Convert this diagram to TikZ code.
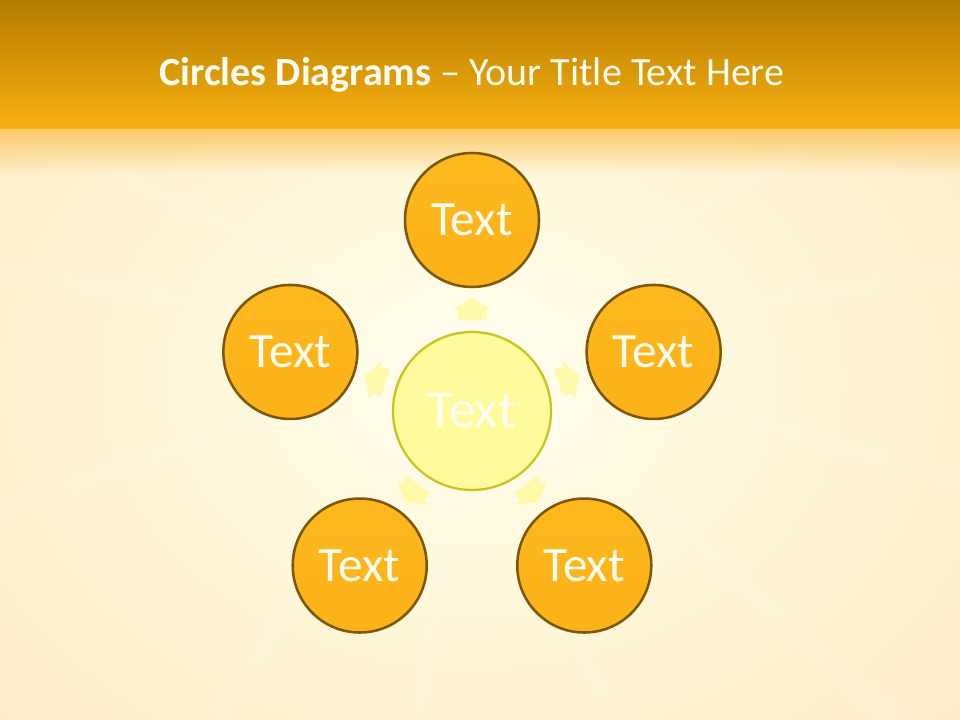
\documentclass[tikz,border=0pt]{standalone}
\usepackage{fontspec}
\setmainfont{Carlito}
\usetikzlibrary{fadings}
\definecolor{bandtop}{HTML}{B57C00}
\definecolor{bandbot}{HTML}{F9B010}
\definecolor{bandglow}{HTML}{FBC258}
\definecolor{glowa}{HTML}{FFFEF4}
\definecolor{glowb}{HTML}{FFFAE0}
\definecolor{glowc}{HTML}{FEF1CE}
\definecolor{glowd}{HTML}{FDE5C2}
\definecolor{glowe}{HTML}{FBD6B4}
\definecolor{ringbrown}{HTML}{7C5708}
\definecolor{orangetop}{HTML}{FEB81E}
\definecolor{orangebot}{HTML}{FCB219}
\definecolor{hubring}{HTML}{C9C41E}
\definecolor{hubfill}{HTML}{FFFB9C}
\definecolor{arrowyellow}{HTML}{FFF9A0}
\definecolor{textwhite}{HTML}{FFFDF2}
\pgfdeclareradialshading{sunglow}{\pgfpoint{0bp}{0bp}}{color(0bp)=(glowa); color(10bp)=(glowb); color(25bp)=(glowc); color(45bp)=(glowd); color(72bp)=(glowe)}

\begin{document}
\begin{tikzpicture}[x=0.75pt,y=0.75pt,
  outer/.style={circle, minimum size=100.5pt, inner sep=0pt, draw=ringbrown, line width=1.9pt,
    top color=orangetop, bottom color=orangebot, text=textwhite, font=\fontsize{37}{40}\selectfont},
  hub/.style={circle, minimum size=118.5pt, inner sep=0pt, draw=hubring, line width=1.7pt,
    fill=hubfill, text=textwhite, font=\fontsize{40}{44}\selectfont},
  blockarrow/.style={fill=arrowyellow, fill opacity=0.85},
  ray/.style={fill=white, fill opacity=0.1}]
\useasboundingbox (0,0) rectangle (960,720);
\clip (0,0) rectangle (960,720);
\shade[shading=sunglow] (-16,-40) rectangle (960,720);
\foreach \r in {155,172,200,236,262,290,318,344,8,30}
  \fill[ray] (472,380) -- ++(\r-1.5:900) -- ++(\r+91.5:46) -- cycle;
\fill[bandglow, path fading=south] (0,600) rectangle (960,545);
\shade[top color=bandtop, bottom color=bandbot] (0,591) rectangle (960,720);
\node[text=textwhite, font=\fontsize{30}{36}\selectfont] (title) at (472,645)
  {\textbf{Circles Diagrams} \textendash\ Your Title Text Here};
\node[hub] (c) at (472,309) {Text};
\foreach \a [count=\i] in {90,18,-54,-126,162}
  \node[outer] (t\i) at ([shift={(\a:191)}]c) {Text};
\foreach \a in {90,18,-54,-126,162}
  \fill[blockarrow, shift={(c.center)}, rotate=\a]
    (91,-14) -- (101,-14) -- (101,-20) -- (113,0) -- (101,20) -- (101,14) -- (91,14) -- cycle;
\end{tikzpicture}
\end{document}
